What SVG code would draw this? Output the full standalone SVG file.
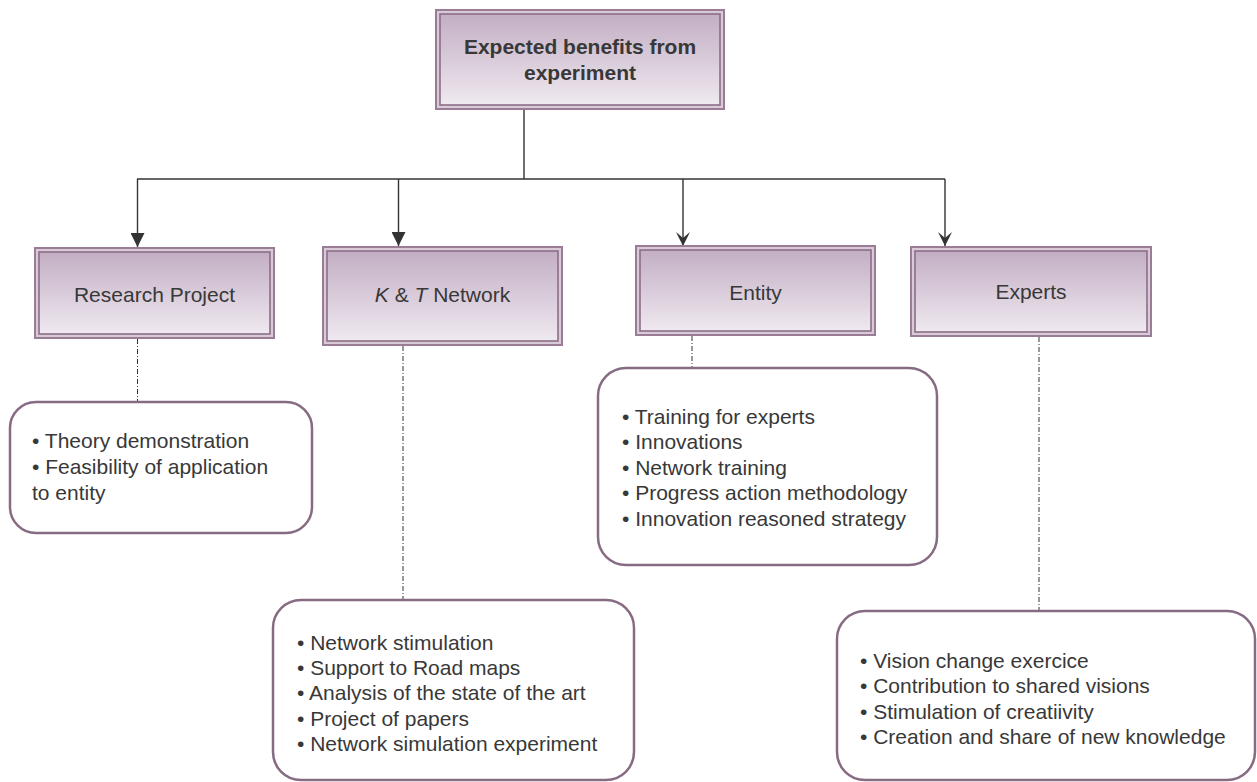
<svg xmlns="http://www.w3.org/2000/svg" width="1257" height="782" viewBox="0 0 1257 782">
<defs>
<linearGradient id="g" x1="0" y1="0" x2="0" y2="1">
<stop offset="0" stop-color="#c3aec4"/>
<stop offset="1" stop-color="#efe9f0"/>
</linearGradient>
<marker id="tri" viewBox="0 0 14 14" refX="14" refY="7" markerWidth="14" markerHeight="14" markerUnits="userSpaceOnUse" orient="auto">
<path d="M0,0 L14,7 L0,14 Z" fill="#333"/>
</marker>
<marker id="stealth" viewBox="0 0 14 14" refX="14" refY="7" markerWidth="14" markerHeight="14" markerUnits="userSpaceOnUse" orient="auto">
<path d="M0,0 L14,7 L0,14 L6,7 Z" fill="#333"/>
</marker>
</defs>
<style>
.outer{fill:#d9cad8;stroke:#9b7c96;stroke-width:2}
.inner{fill:url(#g);stroke:#8d6d88;stroke-width:1.6}
.list{fill:#fff;stroke:#876b83;stroke-width:2.5}
.t{font-family:"Liberation Sans",Arial,sans-serif;font-size:21px;fill:#383838}
.b{font-weight:bold}
.solid{fill:none;stroke:#333;stroke-width:1.4}
.dash{fill:none;stroke:#333;stroke-width:1;stroke-dasharray:5 2 1 2}
</style>
<rect width="1257" height="782" fill="#fff"/>
<g id="connectors">
<path class="solid" d="M524,109 V179"/>
<path class="solid" d="M137,179 H945"/>
<path class="solid" d="M137.5,179 V247" marker-end="url(#tri)"/>
<path class="solid" d="M398.5,179 V246" marker-end="url(#tri)"/>
<path class="solid" d="M683,179 V246" marker-end="url(#stealth)"/>
<path class="solid" d="M945,179 V246" marker-end="url(#stealth)"/>
<path class="dash" d="M137.5,339 V402"/>
<path class="dash" d="M403,346 V600"/>
<path class="dash" d="M692,336 V368"/>
<path class="dash" d="M1039,337 V611"/>
</g>
<g id="root">
<rect class="outer" x="436" y="10" width="288" height="99"/>
<rect class="inner" x="440" y="14" width="280" height="91"/>
<text class="t b" x="580" y="54" text-anchor="middle">Expected benefits from</text>
<text class="t b" x="580" y="80" text-anchor="middle">experiment</text>
</g>
<g id="research-project">
<rect class="outer" x="35" y="248" width="239" height="90"/>
<rect class="inner" x="39" y="252" width="231" height="82"/>
<text class="t" x="154.5" y="302" text-anchor="middle">Research Project</text>
</g>
<g id="kt-network">
<rect class="outer" x="323" y="247" width="239" height="98"/>
<rect class="inner" x="327" y="251" width="231" height="90"/>
<text class="t" x="442.5" y="302" text-anchor="middle"><tspan font-style="italic">K</tspan> &amp; <tspan font-style="italic">T</tspan> Network</text>
</g>
<g id="entity">
<rect class="outer" x="636" y="246" width="239" height="89"/>
<rect class="inner" x="640" y="250" width="231" height="81"/>
<text class="t" x="755.5" y="300" text-anchor="middle">Entity</text>
</g>
<g id="experts">
<rect class="outer" x="911" y="247" width="240" height="89"/>
<rect class="inner" x="915" y="251" width="232" height="81"/>
<text class="t" x="1031" y="299" text-anchor="middle">Experts</text>
</g>
<g id="research-project-benefits">
<rect class="list" x="10" y="402" width="302" height="131" rx="26"/>
<text class="t" x="32" y="448">• Theory demonstration</text>
<text class="t" x="32" y="474">• Feasibility of application</text>
<text class="t" x="32" y="500">to entity</text>
</g>
<g id="kt-network-benefits">
<rect class="list" x="273" y="600" width="361" height="180" rx="28"/>
<text class="t" x="297" y="650">• Network stimulation</text>
<text class="t" x="297" y="675">• Support to Road maps</text>
<text class="t" x="297" y="700">• Analysis of the state of the art</text>
<text class="t" x="297" y="726">• Project of papers</text>
<text class="t" x="297" y="751">• Network simulation experiment</text>
</g>
<g id="entity-benefits">
<rect class="list" x="598" y="368" width="339" height="197" rx="28"/>
<text class="t" x="622" y="424">• Training for experts</text>
<text class="t" x="622" y="449">• Innovations</text>
<text class="t" x="622" y="475">• Network training</text>
<text class="t" x="622" y="500">• Progress action methodology</text>
<text class="t" x="622" y="526">• Innovation reasoned strategy</text>
</g>
<g id="experts-benefits">
<rect class="list" x="837" y="611" width="418" height="169" rx="28"/>
<text class="t" x="860" y="668">• Vision change exercice</text>
<text class="t" x="860" y="693">• Contribution to shared visions</text>
<text class="t" x="860" y="719">• Stimulation of creatiivity</text>
<text class="t" x="860" y="744">• Creation and share of new knowledge</text>
</g>
</svg>
